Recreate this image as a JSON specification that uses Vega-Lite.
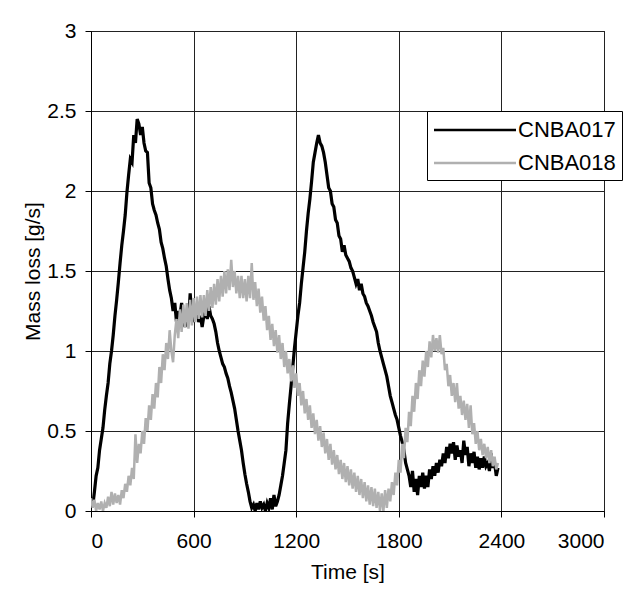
{
"$schema":"https://vega.github.io/schema/vega-lite/v6.json",
"width":513,"height":480,
"autosize":{"type":"none"},
"padding":{"left":91,"top":31,"right":32,"bottom":96},
"background":"white",
"datasets":{
"a":[[0,0.08],[10,0.03],[20,0.12],[30,0.22],[40,0.27],[50,0.38],[60,0.45],[70,0.52],[80,0.63],[90,0.72],[100,0.8],[110,0.92],[120,1.0],[130,1.1],[140,1.22],[150,1.32],[160,1.43],[170,1.55],[180,1.66],[190,1.75],[200,1.85],[210,1.99],[220,2.1],[230,2.2],[240,2.18],[250,2.35],[260,2.3],[270,2.45],[280,2.42],[290,2.35],[300,2.4],[310,2.3],[320,2.25],[330,2.24],[340,2.05],[350,2.02],[360,1.92],[370,1.88],[380,1.85],[390,1.8],[400,1.76],[410,1.68],[420,1.64],[430,1.58],[440,1.53],[450,1.45],[460,1.38],[470,1.33],[480,1.25],[490,1.3],[500,1.18],[510,1.25],[520,1.22],[530,1.3],[540,1.2],[550,1.15],[560,1.24],[570,1.18],[580,1.36],[590,1.22],[600,1.2],[610,1.25],[620,1.28],[630,1.18],[640,1.22],[650,1.15],[660,1.22],[670,1.25],[680,1.2],[690,1.28],[700,1.22],[710,1.2],[720,1.17],[730,1.12],[740,1.05],[750,1.0],[760,0.96],[770,0.92],[780,0.9],[790,0.86],[800,0.83],[810,0.78],[820,0.74],[830,0.69],[840,0.64],[850,0.57],[860,0.5],[870,0.44],[880,0.38],[890,0.3],[900,0.23],[910,0.17],[920,0.12],[930,0.06],[940,0.02],[950,0.04],[960,0.0],[970,0.05],[980,0.01],[990,0.06],[1000,0.02],[1010,0.04],[1020,0.0],[1030,0.05],[1040,0.02],[1050,0.08],[1060,0.01],[1070,0.1],[1080,0.03],[1090,0.06],[1100,0.1],[1110,0.16],[1120,0.22],[1130,0.3],[1140,0.38],[1150,0.55],[1160,0.67],[1170,0.78],[1180,0.9],[1190,1.02],[1200,1.12],[1210,1.22],[1220,1.3],[1230,1.42],[1240,1.52],[1250,1.62],[1260,1.75],[1270,1.86],[1280,1.95],[1290,2.06],[1300,2.18],[1310,2.24],[1320,2.3],[1330,2.35],[1340,2.3],[1350,2.28],[1360,2.24],[1370,2.18],[1380,2.1],[1390,2.02],[1400,2.0],[1410,1.92],[1420,1.9],[1430,1.82],[1440,1.8],[1450,1.72],[1460,1.7],[1470,1.62],[1480,1.66],[1490,1.6],[1500,1.58],[1510,1.56],[1520,1.52],[1530,1.5],[1540,1.46],[1550,1.42],[1560,1.45],[1570,1.38],[1580,1.42],[1590,1.36],[1600,1.34],[1610,1.3],[1620,1.28],[1630,1.25],[1640,1.22],[1650,1.18],[1660,1.15],[1670,1.12],[1680,1.05],[1690,1.0],[1700,0.96],[1710,0.92],[1720,0.88],[1730,0.84],[1740,0.78],[1750,0.72],[1760,0.68],[1770,0.64],[1780,0.6],[1790,0.57],[1800,0.52],[1810,0.47],[1820,0.43],[1830,0.38],[1840,0.3],[1850,0.26],[1860,0.22],[1870,0.15],[1880,0.25],[1890,0.12],[1900,0.2],[1910,0.1],[1920,0.22],[1930,0.15],[1940,0.24],[1950,0.14],[1960,0.22],[1970,0.15],[1980,0.26],[1990,0.2],[2000,0.28],[2010,0.22],[2020,0.3],[2030,0.24],[2040,0.32],[2050,0.28],[2060,0.36],[2070,0.3],[2080,0.4],[2090,0.33],[2100,0.42],[2110,0.36],[2120,0.43],[2130,0.32],[2140,0.41],[2150,0.34],[2160,0.38],[2170,0.3],[2180,0.44],[2190,0.35],[2200,0.4],[2210,0.28],[2220,0.36],[2230,0.3],[2240,0.37],[2250,0.27],[2260,0.34],[2270,0.26],[2280,0.33],[2290,0.27],[2300,0.34],[2310,0.28],[2320,0.3],[2330,0.25],[2340,0.36],[2350,0.27],[2360,0.3],[2370,0.22],[2380,0.27]],
"b":[[0,0.08],[10,0.02],[20,0.07],[30,0.0],[40,0.05],[50,0.01],[60,0.06],[70,0.0],[80,0.05],[90,0.02],[100,0.09],[110,0.03],[120,0.12],[130,0.04],[140,0.11],[150,0.05],[160,0.1],[170,0.04],[180,0.13],[190,0.08],[200,0.17],[210,0.12],[220,0.22],[230,0.16],[240,0.27],[250,0.2],[260,0.48],[270,0.3],[280,0.42],[290,0.36],[300,0.5],[310,0.42],[320,0.58],[330,0.5],[340,0.66],[350,0.57],[360,0.73],[370,0.64],[380,0.8],[390,0.71],[400,0.9],[410,0.8],[420,0.98],[430,0.88],[440,1.05],[450,0.95],[460,1.13],[470,1.0],[480,0.93],[490,1.1],[500,1.2],[510,1.08],[520,1.26],[530,1.12],[540,1.29],[550,1.15],[560,1.3],[570,1.14],[580,1.32],[590,1.16],[600,1.33],[610,1.18],[620,1.34],[630,1.2],[640,1.35],[650,1.21],[660,1.35],[670,1.22],[680,1.38],[690,1.25],[700,1.4],[710,1.27],[720,1.42],[730,1.29],[740,1.45],[750,1.31],[760,1.47],[770,1.34],[780,1.5],[790,1.36],[800,1.51],[810,1.38],[820,1.57],[830,1.4],[840,1.5],[850,1.36],[860,1.47],[870,1.33],[880,1.47],[890,1.33],[900,1.45],[910,1.31],[920,1.47],[930,1.33],[940,1.55],[950,1.32],[960,1.43],[970,1.28],[980,1.39],[990,1.24],[1000,1.34],[1010,1.19],[1020,1.28],[1030,1.13],[1040,1.22],[1050,1.07],[1060,1.17],[1070,1.03],[1080,1.13],[1090,0.99],[1100,1.1],[1110,0.95],[1120,1.05],[1130,0.9],[1140,1.0],[1150,0.86],[1160,0.95],[1170,0.81],[1180,0.91],[1190,0.77],[1200,0.86],[1210,0.72],[1220,0.8],[1230,0.66],[1240,0.75],[1250,0.61],[1260,0.7],[1270,0.57],[1280,0.66],[1290,0.52],[1300,0.61],[1310,0.48],[1320,0.57],[1330,0.44],[1340,0.53],[1350,0.4],[1360,0.49],[1370,0.36],[1380,0.45],[1390,0.32],[1400,0.42],[1410,0.29],[1420,0.38],[1430,0.26],[1440,0.35],[1450,0.23],[1460,0.32],[1470,0.2],[1480,0.3],[1490,0.18],[1500,0.28],[1510,0.16],[1520,0.26],[1530,0.14],[1540,0.24],[1550,0.12],[1560,0.22],[1570,0.1],[1580,0.2],[1590,0.08],[1600,0.18],[1610,0.06],[1620,0.16],[1630,0.04],[1640,0.15],[1650,0.03],[1660,0.14],[1670,0.02],[1680,0.12],[1690,0.0],[1700,0.11],[1710,0.0],[1720,0.13],[1730,0.02],[1740,0.14],[1750,0.06],[1760,0.18],[1770,0.1],[1780,0.24],[1790,0.16],[1800,0.32],[1810,0.24],[1820,0.42],[1830,0.33],[1840,0.52],[1850,0.43],[1860,0.62],[1870,0.53],[1880,0.72],[1890,0.62],[1900,0.8],[1910,0.7],[1920,0.88],[1930,0.78],[1940,0.94],[1950,0.84],[1960,1.0],[1970,0.9],[1980,1.06],[1990,0.96],[2000,1.1],[2010,1.0],[2020,1.08],[2030,0.99],[2040,1.1],[2050,0.98],[2060,1.02],[2070,0.88],[2080,0.92],[2090,0.78],[2100,0.85],[2110,0.72],[2120,0.8],[2130,0.68],[2140,0.8],[2150,0.64],[2160,0.72],[2170,0.6],[2180,0.69],[2190,0.57],[2200,0.67],[2210,0.52],[2220,0.66],[2230,0.48],[2240,0.55],[2250,0.42],[2260,0.5],[2270,0.38],[2280,0.45],[2290,0.35],[2300,0.42],[2310,0.33],[2320,0.4],[2330,0.3],[2340,0.38],[2350,0.28],[2360,0.34],[2370,0.26],[2380,0.3]]
},
"config":{
"font":"Liberation Sans",
"view":{"stroke":"black","strokeWidth":1},
"axis":{"labelFont":"Liberation Sans","titleFont":"Liberation Sans","labelFontSize":21,"titleFontSize":21,"titleFontWeight":"normal","labelColor":"black","titleColor":"black","domainColor":"black","tickColor":"black","gridColor":"#222222","gridOpacity":1,"gridWidth":1,"tickSize":6,"domainWidth":1},
"legend":{"orient":"none","legendX":336,"legendY":80,"strokeColor":"black","fillColor":"white","padding":6,"symbolType":"stroke","symbolSize":6724,"symbolStrokeWidth":2.5,"labelFontSize":22,"labelFont":"Liberation Sans","labelColor":"black","labelOffset":0,"rowPadding":9}
},
"layer":[
{"data":{"name":"a"},
 "transform":[{"calculate":"datum[0]","as":"t"},{"calculate":"datum[1]","as":"v"},{"calculate":"'CNBA017'","as":"s"}],
 "mark":{"type":"line","strokeWidth":3.2,"clip":true},
 "encoding":{
  "x":{"field":"t","type":"quantitative","scale":{"domain":[0,3000],"nice":false},"axis":{"title":"Time [s]","values":[0,600,1200,1800,2400,3000],"format":"d","labelPadding":13,"titleY":50,"grid":true}},
  "y":{"field":"v","type":"quantitative","scale":{"domain":[0,3],"nice":false},"axis":{"title":"Mass loss [g/s]","values":[0,0.5,1,1.5,2,2.5,3],"format":"~g","labelPadding":9,"titleX":-48,"titleY":240,"grid":true}},
  "color":{"field":"s","type":"nominal","scale":{"domain":["CNBA017","CNBA018"],"range":["black","#b0b0b0"]},"legend":{"title":null,"encode":{"symbols":{"update":{"x":{"value":42},"y":{"value":13}}},"labels":{"update":{"y":{"value":13}}}}}}
 }},
{"data":{"name":"b"},
 "transform":[{"calculate":"datum[0]","as":"t"},{"calculate":"datum[1]","as":"v"},{"calculate":"'CNBA018'","as":"s"}],
 "mark":{"type":"line","strokeWidth":2.5,"clip":true},
 "encoding":{
  "x":{"field":"t","type":"quantitative"},
  "y":{"field":"v","type":"quantitative"},
  "color":{"field":"s","type":"nominal"}
 }}
]
}
